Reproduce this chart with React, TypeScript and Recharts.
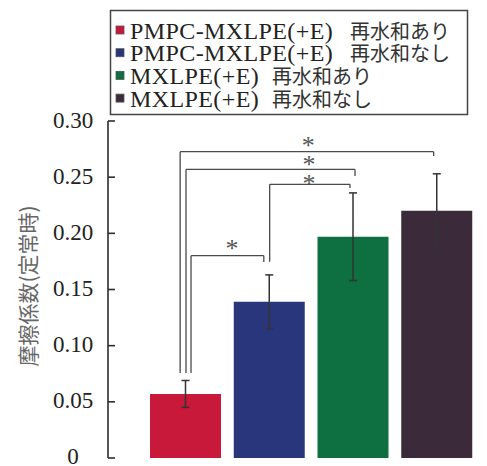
import React from "react";
import {
  BarChart,
  Bar,
  Cell,
  XAxis,
  YAxis,
  ErrorBar,
  ReferenceLine,
  ReferenceDot,
  Legend,
} from "recharts";

// ---- data ----
const categories = [
  "PMPC-MXLPE(+E) 再水和あり",
  "PMPC-MXLPE(+E) 再水和なし",
  "MXLPE(+E) 再水和あり",
  "MXLPE(+E) 再水和なし",
];
const legendLatin = ["PMPC-MXLPE(+E)", "PMPC-MXLPE(+E)", "MXLPE(+E)", "MXLPE(+E)"];
const legendJapanese = ["再水和あり", "再水和なし", "再水和あり", "再水和なし"];
const frictionValues = [0.057, 0.139, 0.197, 0.22];
const errorValues = [0.012, 0.024, 0.039, 0.033];
const barColors = ["#c8193a", "#29367c", "#0e7040", "#3b2b3a"];
const yTicks = [0, 0.05, 0.1, 0.15, 0.2, 0.25, 0.3];
const yAxisLabel = "摩擦係数(定常時)";

// significance brackets: x positions in category-index units, heights in data units
const bracketLeftX = [-0.07, 0.0, 1.0, 0.06];
const bracketRightX = [2.96, 2.02, 1.96, 0.93];
const bracketTopY = [0.2727, 0.2569, 0.2436, 0.1801];
const bracketLeftEndY = [0.0757, 0.0757, 0.1748, 0.0757];
const bracketRightEndY = [0.2688, 0.251, 0.2404, 0.1745];
const starX = [1.46, 1.47, 1.47, 0.55];
const starY = [0.2815, 0.2644, 0.2475, 0.1896];

const data = categories.map((name, i) => ({
  name,
  idx: i,
  value: frictionValues[i],
  err: errorValues[i],
}));

const SERIF = "'Liberation Serif', 'Times New Roman', serif";
const CJK = "'Noto Sans CJK JP', sans-serif";
const AXIS = "#2e2e2e";
const BRACKET = "#4a4a4a";

const YTick = (props: any) => {
  const { x, y, payload } = props;
  const v = payload.value as number;
  const label = v === 0 ? "0" : v.toFixed(2);
  return (
    <g>
      <line x1={x} x2={x + 7} y1={y} y2={y} stroke={AXIS} strokeWidth={1.6} />
      <text
        x={x - 35}
        y={v === 0 ? y - 2 : y - 1}
        textAnchor="middle"
        dominantBaseline="central"
        style={{ fontFamily: SERIF, fontSize: 23 }}
        fill="#222"
      >
        {label}
      </text>
    </g>
  );
};

const YLabel = () => (
  <text
    x={27}
    y={286}
    transform="rotate(-90 27 286)"
    textAnchor="middle"
    dominantBaseline="central"
    style={{ fontFamily: CJK, fontSize: 21 }}
    fill="#666"
  >
    {yAxisLabel}
  </text>
);

const LegendBox = () => (
  <svg width={487} height={120} style={{ display: "block" }}>
    <rect x={110.5} y={10.5} width={357} height={104} fill="#fff" stroke="#444" strokeWidth={1.5} />
    {categories.map((c, i) => {
      const base = 38.5 + i * 22.7;
      return (
        <g key={c}>
          <rect x={116} y={base - 12.5} width={8} height={8} fill={barColors[i]} stroke="#555" strokeWidth={0.8} />
          <text
            x={130}
            y={base}
            style={{ fontFamily: SERIF, fontSize: 24, letterSpacing: 0.4 }}
            fill="#222"
          >
            {legendLatin[i]}
          </text>
          <text x={i < 2 ? 350 : 272} y={base} style={{ fontFamily: CJK, fontSize: 20 }} fill="#333">
            {legendJapanese[i]}
          </text>
        </g>
      );
    })}
  </svg>
);

const Star = (props: any) => {
  const { cx, cy } = props;
  return (
    <text
      x={cx}
      y={cy + 12}
      textAnchor="middle"
      style={{ fontFamily: SERIF, fontSize: 26 }}
      fill="#555"
    >
      *
    </text>
  );
};

export default function App() {
  return (
    <div style={{ position: "absolute", left: 0, top: 0, width: 487, height: 466, background: "#fff" }}>
      <BarChart
        width={487}
        height={466}
        data={data}
        margin={{ top: 121, right: 0, bottom: 8, left: 0 }}
      >
        <XAxis
          dataKey="name"
          tick={false}
          tickLine={false}
          height={0}
          padding={{ left: 36, right: 8 }}
          axisLine={{ stroke: AXIS, strokeWidth: 1.6 }}
        />
        <XAxis
          xAxisId="n"
          type="number"
          dataKey="idx"
          domain={[0, 3]}
          padding={{ left: 78, right: 50 }}
          hide
          allowDataOverflow
        />
        <YAxis
          width={108}
          domain={[0, 0.3]}
          ticks={yTicks}
          interval={0}
          tickSize={0}
          tickMargin={0}
          tickLine={false}
          tick={<YTick />}
          axisLine={{ stroke: AXIS, strokeWidth: 1.6 }}
          label={<YLabel />}
        />
        <Legend
          layout="vertical"
          align="center"
          verticalAlign="middle"
          content={<LegendBox />}
          wrapperStyle={{ position: "absolute", left: 0, top: 0, width: 487, height: 120 }}
        />
        <Bar dataKey="value" barSize={71} isAnimationActive={false}>
          {data.map((d, i) => (
            <Cell key={d.name} fill={barColors[i]} />
          ))}
          <ErrorBar dataKey="err" width={4} stroke="#333" strokeWidth={1.5} direction="y" />
        </Bar>
        {bracketTopY.map((ty, i) => (
          <ReferenceLine
            key={"t" + i}
            xAxisId="n"
            ifOverflow="visible"
            segment={[
              { x: bracketLeftX[i], y: ty },
              { x: bracketRightX[i], y: ty },
            ]}
            stroke={BRACKET}
            strokeWidth={1.3}
          />
        ))}
        {bracketTopY.map((ty, i) => (
          <ReferenceLine
            key={"l" + i}
            xAxisId="n"
            ifOverflow="visible"
            segment={[
              { x: bracketLeftX[i], y: ty },
              { x: bracketLeftX[i], y: bracketLeftEndY[i] },
            ]}
            stroke={BRACKET}
            strokeWidth={1.3}
          />
        ))}
        {bracketTopY.map((ty, i) => (
          <ReferenceLine
            key={"r" + i}
            xAxisId="n"
            ifOverflow="visible"
            segment={[
              { x: bracketRightX[i], y: ty },
              { x: bracketRightX[i], y: bracketRightEndY[i] },
            ]}
            stroke={BRACKET}
            strokeWidth={1.3}
          />
        ))}
        {starX.map((sx, i) => (
          <ReferenceDot
            key={"s" + i}
            xAxisId="n"
            ifOverflow="visible"
            x={sx}
            y={starY[i]}
            r={0}
            shape={<Star />}
          />
        ))}
      </BarChart>
    </div>
  );
}
